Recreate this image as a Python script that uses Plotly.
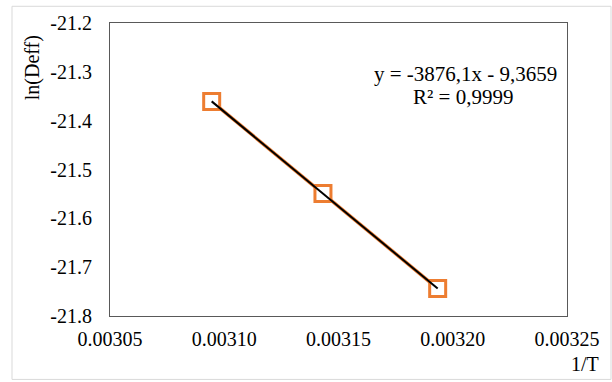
import plotly.graph_objects as go

# Data: 1/T and ln(Deff)
inv_T = [0.0030945, 0.0031432, 0.0031934]
ln_deff = [-21.3605, -21.5493, -21.7438]

# Trendline y = slope*x + intercept
slope = -3876.1
intercept = -9.3659
r2_text = "R² = 0,9999"
eq_text = "y = -3876,1x - 9,3659"

x_tickvals = [0.00305, 0.00310, 0.00315, 0.00320, 0.00325]
x_ticktext = ["0.00305", "0.00310", "0.00315", "0.00320", "0.00325"]
y_tickvals = [-21.8, -21.7, -21.6, -21.5, -21.4, -21.3, -21.2]
y_ticktext = ["-21.8", "-21.7", "-21.6", "-21.5", "-21.4", "-21.3", "-21.2"]

trend_x = [min(inv_T), max(inv_T)]
trend_y = [slope * v + intercept for v in trend_x]

FONT = "Liberation Serif"
ORANGE = "#ED7D31"

fig = go.Figure()
fig.add_trace(go.Scatter(
    x=inv_T, y=ln_deff, mode="lines+markers",
    line=dict(color=ORANGE, width=3.5),
    marker=dict(symbol="square", size=16, color="white",
                line=dict(color=ORANGE, width=3)),
    showlegend=False, hoverinfo="skip",
))
fig.add_trace(go.Scatter(
    x=trend_x, y=trend_y, mode="lines",
    line=dict(color="black", width=2),
    showlegend=False, hoverinfo="skip",
))

axis_common = dict(
    showgrid=False, zeroline=False, showline=True, mirror=True,
    linecolor="#595959", linewidth=1, ticks="",
    tickfont=dict(family=FONT, size=20, color="#000000"),
)
fig.update_xaxes(range=[0.00305, 0.00325], tickmode="array",
                 tickvals=x_tickvals, ticktext=x_ticktext,
                 ticklabelstandoff=5, **axis_common)
fig.update_yaxes(range=[-21.8, -21.2], tickmode="array",
                 tickvals=y_tickvals, ticktext=y_ticktext,
                 ticklabelstandoff=13, **axis_common)

fig.add_annotation(text=eq_text, xref="paper", yref="paper",
                   x=(465 - 110) / 457, y=(316 - 70) / 298, xanchor="center",
                   yanchor="middle", showarrow=False,
                   font=dict(family=FONT, size=21, color="black"))
fig.add_annotation(text=r2_text, xref="paper", yref="paper",
                   x=(463 - 110) / 457, y=(316 - 93) / 298, xanchor="center",
                   yanchor="middle", showarrow=False,
                   font=dict(family=FONT, size=21, color="black"))
fig.add_annotation(text="ln(Deff)", xref="paper", yref="paper",
                   x=(32 - 110) / 457, y=(316 - 64) / 298, textangle=-90,
                   xanchor="center", yanchor="middle", showarrow=False,
                   font=dict(family=FONT, size=20, color="black"))
fig.add_annotation(text="1/T", xref="paper", yref="paper",
                   x=(601 - 110) / 457, y=(316 - 365) / 298,
                   xanchor="right", yanchor="middle", showarrow=False,
                   font=dict(family=FONT, size=20, color="black"))

fig.add_shape(type="rect", xref="paper", yref="paper",
              x0=(12 - 110) / 457, x1=(611 - 110) / 457,
              y0=(316 - 380.5) / 298, y1=(316 - 1) / 298,
              line=dict(color="#D9D9D9", width=1), layer="below")

fig.update_layout(
    width=612, height=382,
    margin=dict(l=110, r=45, t=18, b=66),
    paper_bgcolor="white", plot_bgcolor="white",
    font=dict(family=FONT),
)

fig.write_html(
    "out.html",
    config={"displayModeBar": False, "staticPlot": True},
    post_script="document.body.style.margin='0';document.body.style.overflow='hidden';",
)
